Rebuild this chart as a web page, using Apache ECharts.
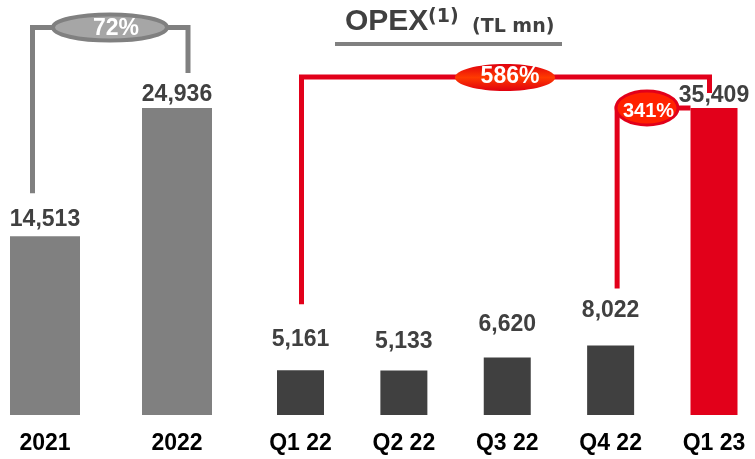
<!DOCTYPE html>
<html>
<head>
<meta charset="utf-8">
<script src="https://cdn.jsdelivr.net/npm/echarts@6/dist/echarts.min.js"></script>
<style>
  html, body { margin: 0; padding: 0; background: #fff; }
  #c { width: 755px; height: 459px; }
</style>
</head>
<body>
<div id="c"></div>
<script>
// Annual OPEX (TL mn)
const yearCats = ['2021', '2022'];
const yearValues = [14513, 24936];

// Quarterly OPEX (TL mn)
const quarterCats = ['Q1 22', 'Q2 22', 'Q3 22', 'Q4 22', 'Q1 23'];
const quarterValues = [5161, 5133, 6620, 8022, 35409];

// Growth call-outs: 2022 vs 2021, Q1 23 vs Q1 22, Q1 23 vs Q4 22
const growthLabels = ['72%', '586%', '341%'];

const FONT = "'Liberation Sans', Arial, Helvetica, sans-serif";
const WIDE = "'DejaVu Sans', Verdana, sans-serif";
const fmt = v => Number(v).toLocaleString('en-US');

// label gap above each bar
const yearGap = [5, 2];
const quarterGap = [19, 17, 21, 23, 1];
const quarterColors = ['#404040', '#404040', '#404040', '#404040', '#e2001a'];

const chart = echarts.init(document.getElementById('c'), null, { renderer: 'canvas' });

function catAxis(gridIndex, data) {
  return {
    type: 'category', gridIndex, data, boundaryGap: false,
    axisLine: { show: false }, axisTick: { show: false }, splitLine: { show: false },
    axisLabel: { interval: 0, margin: 17, color: '#000', fontSize: 23, fontWeight: 'bold', fontFamily: FONT }
  };
}
function valAxis(gridIndex, values) {
  return { type: 'value', gridIndex, min: 0, max: Math.max(...values), show: false, splitLine: { show: false } };
}
const valueLabel = {
  show: true, position: 'top', formatter: p => fmt(p.value),
  color: '#404040', fontSize: 23, fontWeight: 'bold', fontFamily: FONT
};

chart.setOption({
  animation: false,
  grid: [
    { left: 45, right: 578, top: 108, bottom: 44 },
    { left: 300.5, right: 41, top: 108, bottom: 44 }
  ],
  xAxis: [catAxis(0, yearCats), catAxis(1, quarterCats)],
  yAxis: [valAxis(0, yearValues), valAxis(1, quarterValues)],
  series: [
    {
      type: 'bar', xAxisIndex: 0, yAxisIndex: 0, barWidth: 70,
      itemStyle: { color: '#808080' }, label: valueLabel,
      data: yearValues.map((v, i) => ({ value: v, label: { distance: yearGap[i] } }))
    },
    {
      type: 'bar', xAxisIndex: 1, yAxisIndex: 1, barWidth: 47,
      label: valueLabel,
      data: quarterValues.map((v, i) => ({
        value: v, itemStyle: { color: quarterColors[i] }, label: { distance: quarterGap[i] }
      }))
    }
  ]
});

// bar anchor points for the growth brackets
const pt = (s, i, v) => chart.convertToPixel({ seriesIndex: s }, [i, v]);
const p21 = pt(0, 0, yearValues[0]);
const p22 = pt(0, 1, yearValues[1]);
const q1 = pt(1, 0, quarterValues[0]);
const q4 = pt(1, 3, quarterValues[3]);
const q5 = pt(1, 4, quarterValues[4]);

const GRAY = '#808080';
const RED = '#e2001a';
const line = (points, stroke, z) => ({
  type: 'polyline', z, shape: { points },
  style: { stroke, lineWidth: 5, fill: null, lineJoin: 'miter', lineCap: 'butt' }
});
const txt = (text, x, y, font, fill, z, align) => ({
  type: 'text', z, style: { text, x, y, font, fill, align: align || 'center', verticalAlign: 'middle' }
});

const topY1 = 27.5, topY2 = 77;
const xa = p21[0] - 12.5, xb = p22[0] + 11;
const xc = q1[0] + 1, xd = q5[0] - 4.5, xe = q4[0] + 6.5;

chart.setOption({
  graphic: [
    // title
    txt('OPEX', 345, 22, 'bold 30px ' + FONT, '#404040', 10, 'left'),
    txt('(1)', 428, 17, 'bold 19px ' + WIDE, '#404040', 10, 'left'),
    txt('(TL mn)', 472, 27, 'bold 19px ' + WIDE, '#404040', 10, 'left'),
    { type: 'line', z: 10, shape: { x1: 335, y1: 44, x2: 562, y2: 44 }, style: { stroke: GRAY, lineWidth: 4 } },

    // 2022 vs 2021
    line([[xa, p21[1] - 43], [xa, topY1], [xb, topY1], [xb, p22[1] - 35]], GRAY, 5),
    { type: 'ellipse', z: 6, shape: { cx: 110, cy: topY1, rx: 57, ry: 13 },
      style: { fill: '#a6a6a6', stroke: GRAY, lineWidth: 4 } },
    txt(growthLabels[0], 116, topY1 + 1, 'bold 23px ' + FONT, '#fff', 7),

    // Q1 23 vs Q1 22
    line([[xc, q1[1] - 66], [xc, topY2], [xd, topY2], [xd, q5[1] - 15]], RED, 5),
    { type: 'ellipse', z: 6, shape: { cx: 505, cy: topY2 + 0.5, rx: 50, ry: 13.5 },
      style: {
        fill: new echarts.graphic.LinearGradient(0, 0, 0, 1, [
          { offset: 0, color: '#e0000f' }, { offset: 0.5, color: '#ff3a00' }, { offset: 1, color: '#e0000f' }
        ])
      } },
    txt(growthLabels[1], 510, topY2, 'bold 23px ' + FONT, '#fff', 7),

    // Q1 23 vs Q4 22
    line([[xe, q4[1] - 57], [xe, q5[1]], [q5[0] - 23.5, q5[1]]], RED, 5),
    { type: 'ellipse', z: 6, shape: { cx: 647, cy: q5[1], rx: 31, ry: 17 },
      style: { fill: '#ff2200', stroke: RED, lineWidth: 3 } },
    txt(growthLabels[2], 648.5, q5[1] + 3, 'bold 20px ' + FONT, '#fff', 7)
  ]
});
</script>
</body>
</html>
